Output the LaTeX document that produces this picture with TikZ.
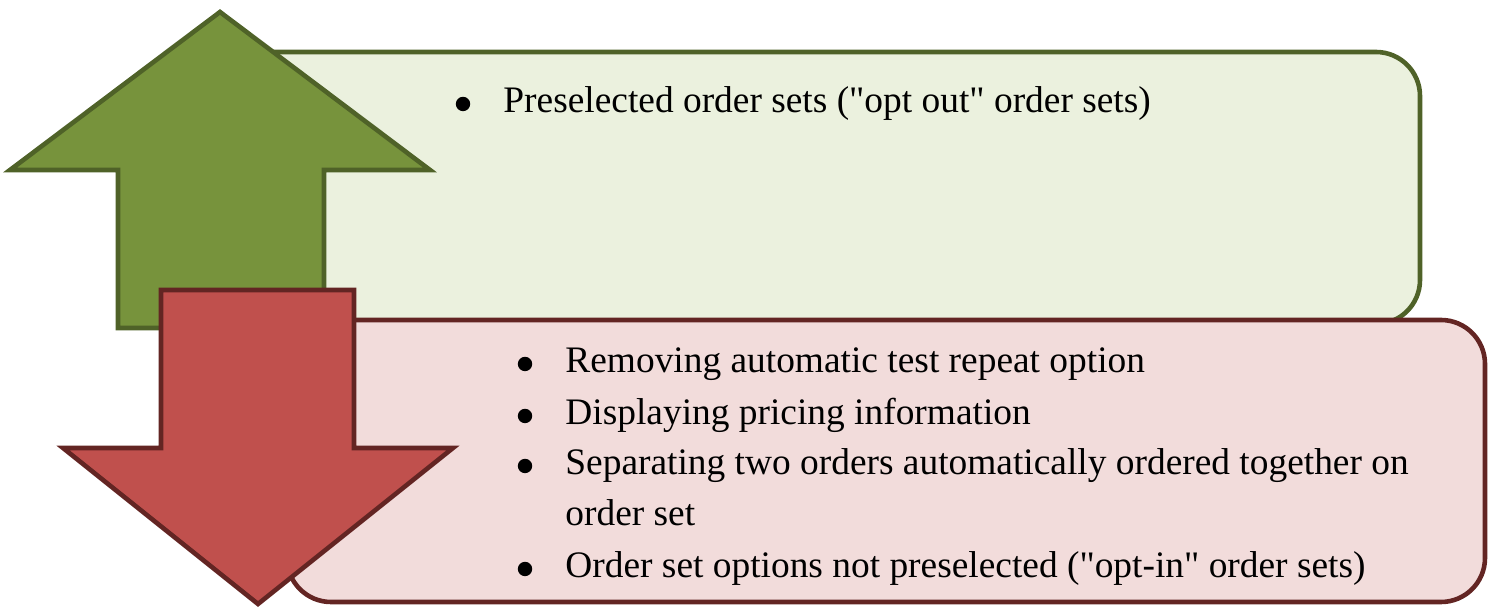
\documentclass[tikz,border=0pt]{standalone}
\usepackage{fontspec}
\setmainfont{Liberation Serif}
\definecolor{upfill}{HTML}{77933C}
\definecolor{updraw}{HTML}{4F6228}
\definecolor{upbox}{HTML}{EBF1DE}
\definecolor{downfill}{HTML}{C0504D}
\definecolor{downdraw}{HTML}{632523}
\definecolor{downbox}{HTML}{F2DCDB}
\tikzset{
  panel/.style={line width=2.3pt, rounded corners=22pt},
  bigarrow/.style={line width=2.3pt, line join=miter},
  bullettext/.style={anchor=base west, inner sep=0pt, font=\fontsize{18.7}{26}\selectfont},
  bulletmark/.style={circle, fill=black, inner sep=0pt, minimum size=7.2pt},
}
\newcommand{\dq}{\textquotedbl}
\begin{document}
\begin{tikzpicture}[x=0.5pt,y=-0.5pt]
\useasboundingbox (0,0) rectangle (1496,608);
% upper panel and upward arrow
\draw[panel, draw=updraw, fill=upbox] (222,52) rectangle (1420,324);
\draw[bigarrow, draw=updraw, fill=upfill]
  (220,12) -- (430,170) -- (324,170) -- (324,328) -- (118,328) -- (118,170) -- (10,170) -- cycle;
% lower panel and downward arrow
\draw[panel, draw=downdraw, fill=downbox] (287,320) rectangle (1485,602);
\draw[bigarrow, draw=downdraw, fill=downfill]
  (161,290) -- (354,290) -- (354,448) -- (453,448) -- (258,604) -- (63,448) -- (161,448) -- cycle;
% upper list
\node[bulletmark] (ub1) at (463,104) {};
\node[bullettext] (ut1) at (503,113) {Preselected order sets (\dq opt out\dq{} order sets)};
% lower list
\node[bulletmark] (db1) at (525,364) {};
\node[bullettext] (dt1) at (565,373) {Removing automatic test repeat option};
\node[bulletmark] (db2) at (525,416) {};
\node[bullettext] (dt2) at (565,425) {Displaying pricing information};
\node[bulletmark] (db3) at (525,466) {};
\node[bullettext] (dt3) at (565,475) {Separating two orders automatically ordered together on};
\node[bullettext] (dt3b) at (565,526) {order set};
\node[bulletmark] (db4) at (525,569) {};
\node[bullettext] (dt4) at (565,578) {Order set options not preselected (\dq opt-in\dq{} order sets)};
\end{tikzpicture}
\end{document}
